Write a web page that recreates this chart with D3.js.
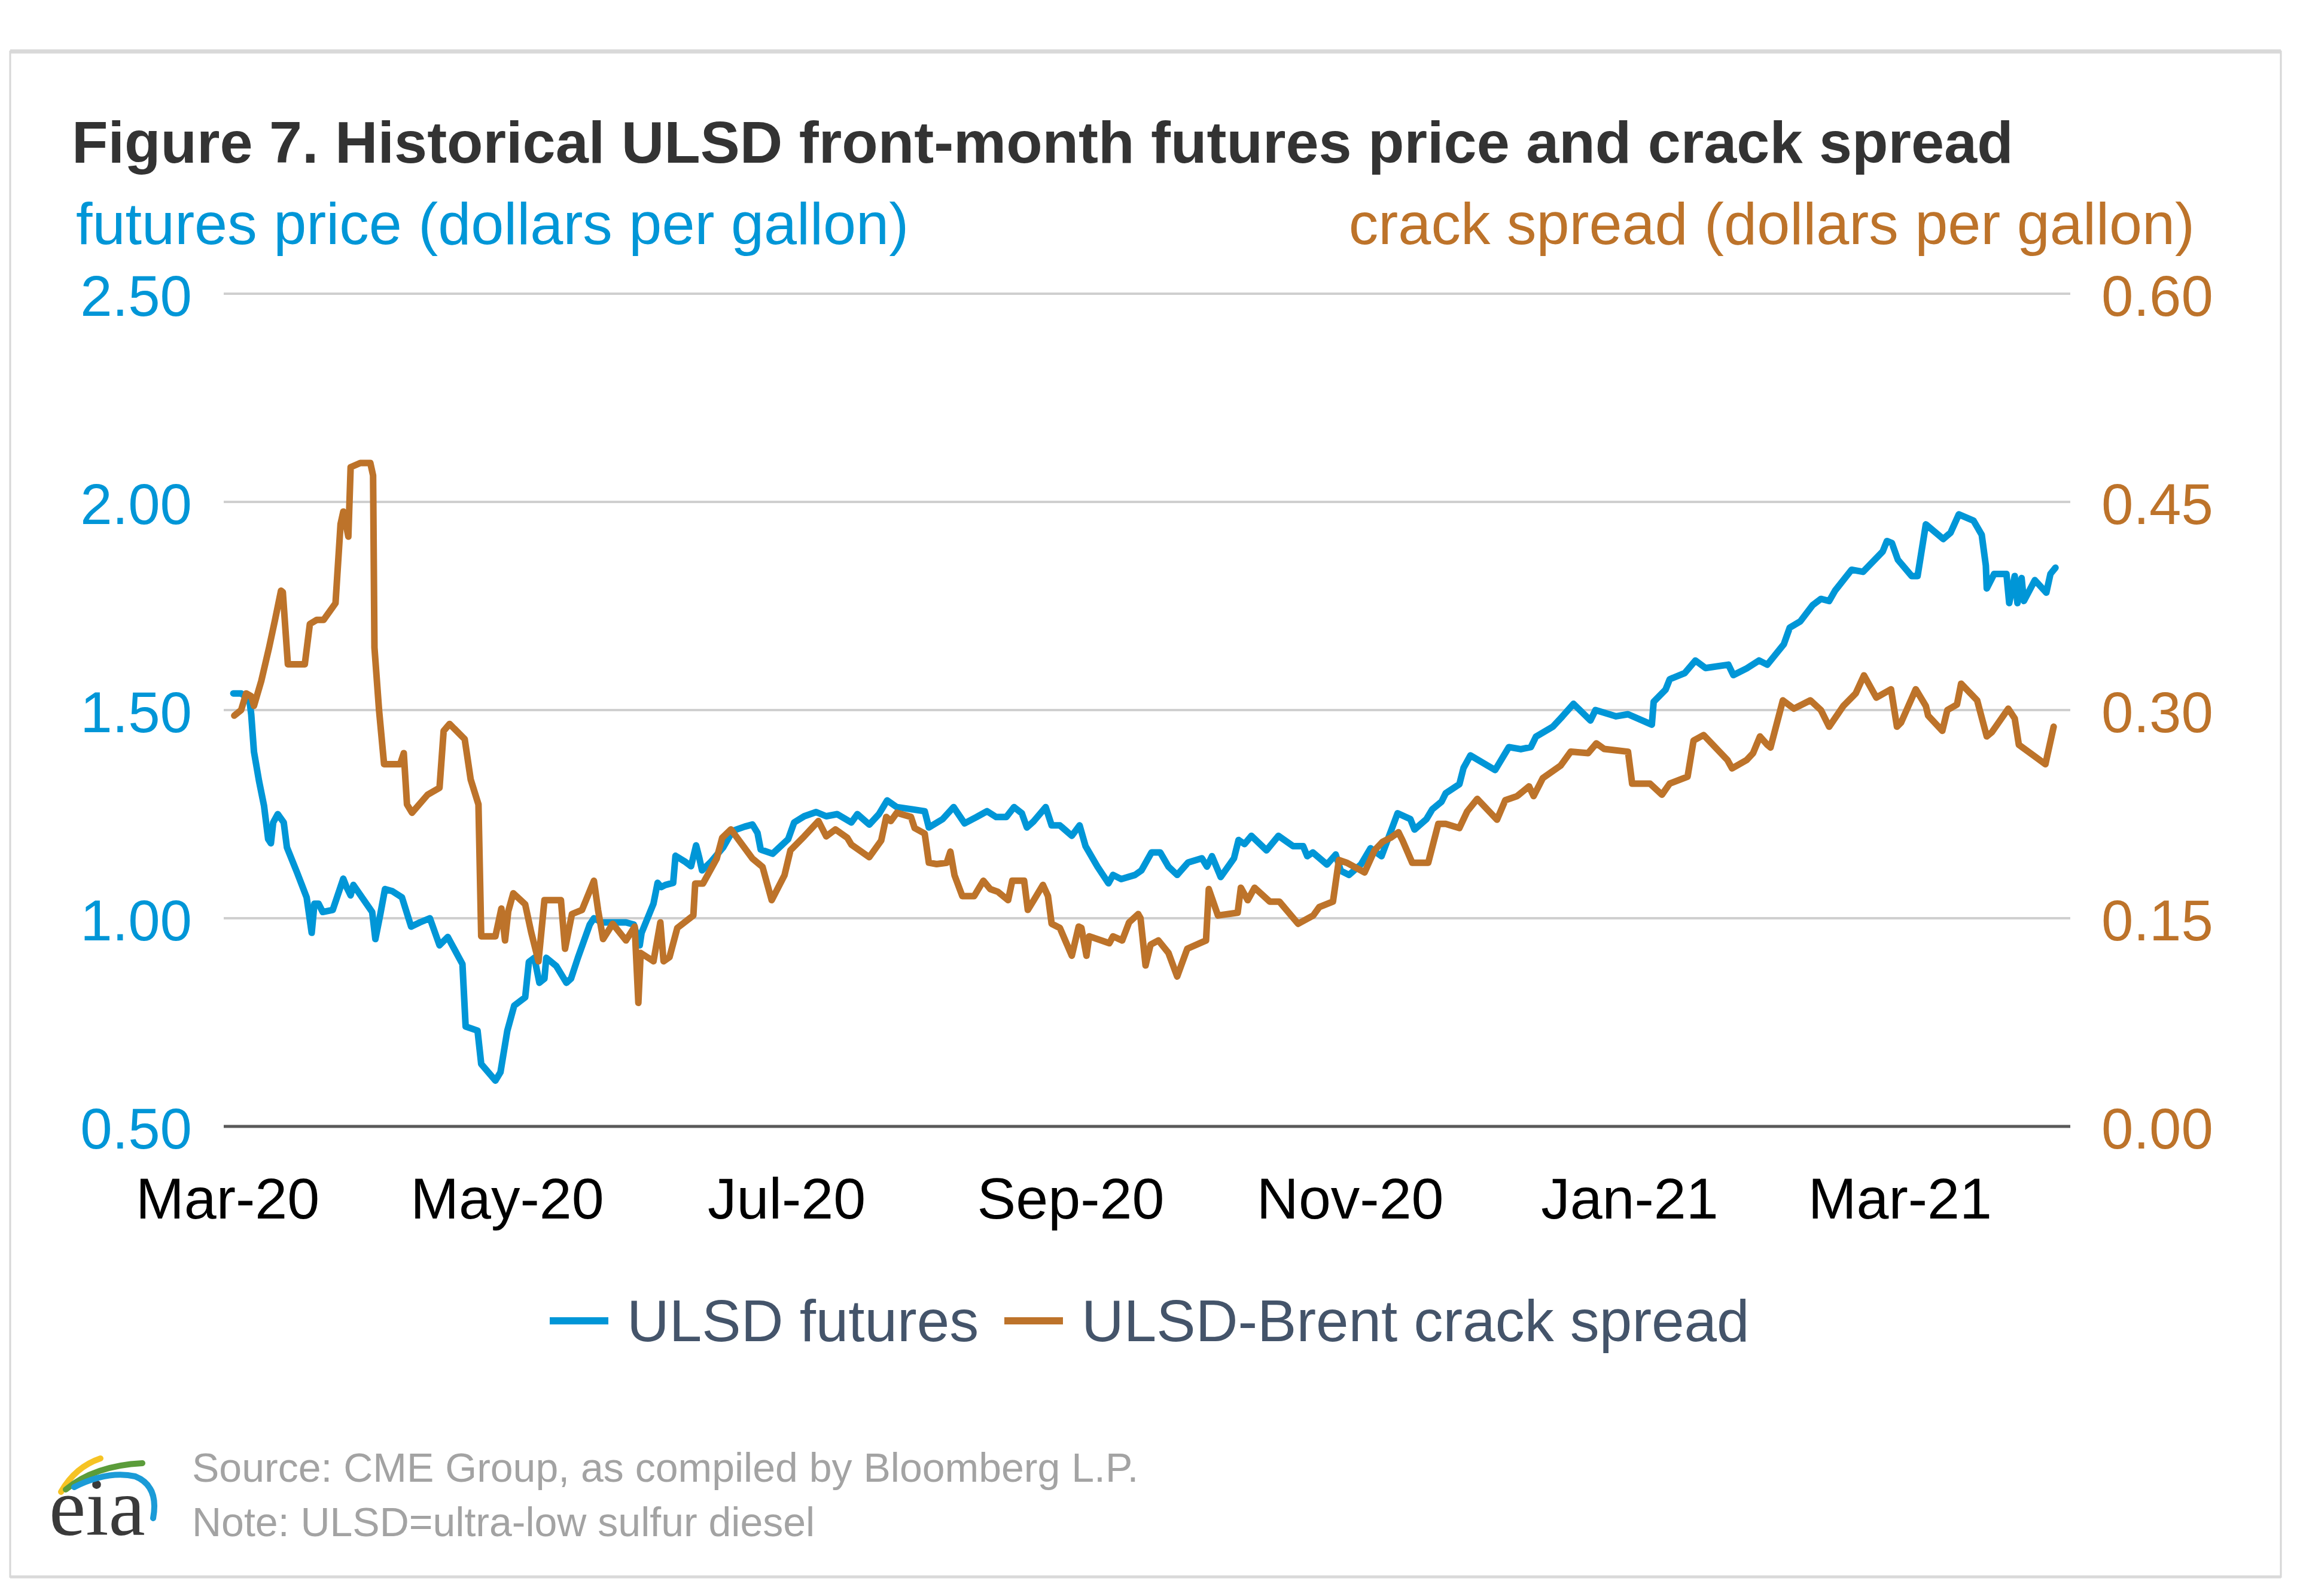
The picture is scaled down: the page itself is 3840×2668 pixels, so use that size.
<!DOCTYPE html>
<html>
<head>
<meta charset="utf-8">
<script src="https://cdn.jsdelivr.net/npm/d3@7"></script>
<style>
  html, body { margin: 0; padding: 0; background: #ffffff; }
  svg { display: block; font-family: "Liberation Sans", Arial, sans-serif; }
</style>
</head>
<body>
<svg id="chart" width="3840" height="2668"></svg>
<script>
// ---------------- data (days counted from 2020-03-01) ----------------
const titleText = "Figure 7. Historical ULSD front-month futures price and crack spread";
const leftAxisTitle = "futures price (dollars per gallon)";
const rightAxisTitle = "crack spread (dollars per gallon)";
const seriesNames = ["ULSD futures", "ULSD-Brent crack spread"];
const sourceLines = ["Source: CME Group, as compiled by Bloomberg L.P.", "Note: ULSD=ultra-low sulfur diesel"];

const xTickDates = ["2020-03-01", "2020-05-01", "2020-07-01", "2020-09-01", "2020-11-01", "2021-01-01", "2021-03-01"];
const xTickLabels = ["Mar-20", "May-20", "Jul-20", "Sep-20", "Nov-20", "Jan-21", "Mar-21"];
const leftTicks = [0.5, 1.0, 1.5, 2.0, 2.5];
const rightTicks = [0.0, 0.15, 0.30, 0.45, 0.60];

const futuresDay = [
  1.3, 3.0, 4.8, 5.2, 5.8, 6.9, 8.0, 8.9, 9.5, 10.0, 11.0, 12.3, 13.0, 15.2, 17.3, 18.4, 19.0, 19.9, 20.8, 23.0,
  25.3, 26.0, 26.9, 27.5, 31.6, 32.3, 33.3, 34.4, 36.0, 38.1, 40.1, 42.0, 44.2, 46.3, 48.1, 51.3, 52.0, 54.6, 55.4, 58.5,
  59.6, 61.1, 62.6, 65.0, 65.8, 67.0, 68.1, 69.2, 69.6, 71.8, 74.0, 75.0, 76.5, 79.1, 80.0, 81.7, 83.5, 87.0, 88.7, 90.0,
  90.4, 93.0, 93.9, 94.7, 95.6, 97.3, 97.8, 100.0, 101.2, 102.3, 103.0, 103.6, 105.5, 108.2, 110.3, 112.9, 114.6, 115.7, 116.4, 119.0,
  122.4, 123.7, 125.9, 128.5, 130.7, 133.1, 136.2, 137.5, 140.1, 142.2, 144.0, 146.1, 149.2, 152.2, 153.1, 156.1, 158.5, 160.9, 163.5, 165.8,
  167.8, 170.0, 171.7, 173.4, 174.5, 176.0, 178.6, 179.9, 181.7, 184.3, 186.0, 187.3, 189.9, 192.3, 193.3, 195.1, 198.1, 199.5, 201.7, 203.6,
  205.4, 207.3, 209.7, 212.7, 213.8, 214.9, 216.8, 219.7, 220.7, 222.0, 223.5, 226.8, 229.4, 232.6, 234.8, 235.7, 236.9, 240.0, 241.9, 243.0,
  244.8, 247.4, 249.5, 251.9, 253.4, 255.4, 258.2, 259.1, 261.7, 263.0, 265.0, 265.9, 268.9, 269.8, 271.3, 276.7, 279.7, 282.3, 284.5, 285.6,
  289.3, 291.4, 293.8, 297.5, 298.6, 303.1, 305.7, 310.9, 311.3, 313.9, 314.8, 318.1, 320.4, 322.6, 327.6, 328.7, 331.6, 334.3, 336.1, 339.7,
  341.0, 343.3, 346.0, 347.8, 349.6, 350.9, 354.5, 357.0, 361.3, 362.2, 363.3, 364.6, 367.6, 368.9, 370.7, 374.5, 376.1, 377.9, 381.1, 382.9,
  383.8, 384.0, 385.6, 388.3, 388.9, 390.1, 390.7, 391.6, 392.1, 394.5, 397.0, 397.9, 399.0
];
const futuresPrice = [
  1.54, 1.54, 1.525, 1.49, 1.40, 1.33, 1.27, 1.19, 1.18, 1.23, 1.25, 1.23, 1.17, 1.11, 1.05, 0.965, 1.035, 1.035, 1.015, 1.02,
  1.095, 1.075, 1.055, 1.08, 1.015, 0.95, 1.005, 1.07, 1.065, 1.05, 0.98, 0.99, 1.00, 0.935, 0.955, 0.89, 0.74, 0.73, 0.65, 0.61,
  0.63, 0.73, 0.79, 0.81, 0.895, 0.905, 0.845, 0.855, 0.905, 0.885, 0.845, 0.855, 0.905, 0.985, 1.00, 0.99, 0.99, 0.99, 0.985, 0.935,
  0.965, 1.035, 1.085, 1.075, 1.08, 1.085, 1.15, 1.135, 1.125, 1.175, 1.145, 1.115, 1.135, 1.17, 1.21, 1.22, 1.225, 1.205, 1.165, 1.155,
  1.19, 1.23, 1.245, 1.255, 1.245, 1.25, 1.23, 1.25, 1.225, 1.25, 1.283, 1.267, 1.262, 1.257, 1.218, 1.238, 1.267, 1.228, 1.243, 1.257,
  1.243, 1.243, 1.267, 1.252, 1.218, 1.233, 1.267, 1.223, 1.223, 1.198, 1.223, 1.173, 1.124, 1.084, 1.104, 1.094, 1.104, 1.115, 1.158, 1.158,
  1.124, 1.104, 1.134, 1.144, 1.124, 1.149, 1.099, 1.144, 1.188, 1.178, 1.198, 1.163, 1.198, 1.173, 1.173, 1.149, 1.158, 1.129, 1.153, 1.114,
  1.104, 1.129, 1.168, 1.149, 1.193, 1.252, 1.238, 1.213, 1.238, 1.262, 1.28, 1.30, 1.322, 1.361, 1.391, 1.356, 1.411, 1.406, 1.411, 1.436,
  1.46, 1.485, 1.515, 1.475, 1.50, 1.485, 1.49, 1.465, 1.52, 1.549, 1.574, 1.589, 1.619, 1.601, 1.609, 1.584, 1.60, 1.619, 1.609, 1.658,
  1.698, 1.713, 1.752, 1.767, 1.762, 1.787, 1.837, 1.832, 1.881, 1.906, 1.901, 1.861, 1.822, 1.822, 1.946, 1.911, 1.926, 1.97, 1.955, 1.921,
  1.847, 1.792, 1.827, 1.827, 1.757, 1.822, 1.757, 1.817, 1.762, 1.812, 1.782, 1.827, 1.842
];

const spreadDay = [
  1.5, 3.0, 4.1, 5.2, 5.8, 7.4, 9.1, 10.4, 11.7, 12.1, 13.2, 16.9, 18.0, 19.5, 21.0, 23.6, 24.7, 25.3, 26.4, 26.9,
  29.0, 31.2, 31.8, 32.1, 33.1, 34.2, 37.7, 38.5, 39.2, 40.3, 43.7, 46.3, 47.2, 48.5, 51.8, 53.1, 54.8, 55.4, 58.5, 59.8,
  60.6, 61.3, 62.4, 65.0, 66.3, 67.9, 69.2, 72.8, 73.7, 75.2, 77.4, 80.0, 80.9, 82.0, 84.1, 87.0, 88.9, 89.7, 90.2, 93.0,
  94.5, 95.2, 96.5, 98.2, 101.7, 102.1, 103.8, 106.8, 108.0, 109.9, 114.6, 116.8, 118.8, 121.6, 122.9, 125.9, 129.0, 130.7, 132.7, 135.3,
  136.2, 140.1, 142.7, 143.8, 144.8, 146.1, 149.2, 150.0, 152.2, 153.1, 154.8, 157.0, 157.8, 158.7, 160.4, 163.0, 165.0, 166.5, 168.2, 170.4,
  171.3, 173.9, 174.7, 176.0, 178.0, 179.1, 179.9, 181.7, 184.3, 185.8, 186.4, 187.5, 188.1, 192.5, 193.3, 195.3, 196.8, 198.8, 199.3, 200.4,
  201.5, 203.2, 205.4, 207.3, 209.5, 213.6, 214.2, 216.2, 220.5, 221.2, 222.7, 224.2, 227.5, 229.6, 233.7, 237.0, 238.3, 241.3, 242.6, 244.3,
  248.2, 250.4, 252.1, 253.9, 255.6, 256.5, 258.6, 262.1, 264.3, 265.9, 268.9, 270.6, 272.8, 277.1, 278.9, 281.5, 284.1, 285.1, 287.1, 291.0,
  293.2, 297.0, 298.8, 300.5, 305.7, 306.6, 310.5, 313.1, 314.8, 318.7, 320.0, 322.2, 327.4, 328.4, 331.6, 333.0, 334.5, 336.1, 336.8, 339.5,
  341.9, 345.5, 347.8, 349.6, 352.7, 355.4, 357.2, 359.9, 363.1, 364.4, 365.3, 368.5, 370.7, 371.2, 374.3, 375.4, 377.5, 378.4, 381.9, 384.0,
  385.1, 388.7, 390.1, 391.0, 396.8, 398.6
];
const spreadValue = [
  0.296, 0.30, 0.312, 0.31, 0.303, 0.321, 0.345, 0.365, 0.386, 0.385, 0.333, 0.333, 0.362, 0.365, 0.365, 0.377, 0.434, 0.443, 0.425, 0.475,
  0.478, 0.478, 0.469, 0.345, 0.30, 0.261, 0.261, 0.269, 0.232, 0.226, 0.239, 0.244, 0.285, 0.29, 0.279, 0.25, 0.232, 0.137, 0.137, 0.157,
  0.134, 0.155, 0.168, 0.16, 0.14, 0.119, 0.163, 0.163, 0.128, 0.153, 0.156, 0.177, 0.156, 0.135, 0.146, 0.134, 0.144, 0.089, 0.125, 0.119,
  0.147, 0.119, 0.122, 0.143, 0.152, 0.175, 0.175, 0.193, 0.208, 0.214, 0.193, 0.187, 0.163, 0.181, 0.199, 0.209, 0.22, 0.209, 0.214, 0.208,
  0.203, 0.194, 0.206, 0.223, 0.22, 0.226, 0.223, 0.215, 0.211, 0.19, 0.189, 0.19, 0.198, 0.181, 0.166, 0.166, 0.177, 0.171, 0.169, 0.163,
  0.177, 0.177, 0.156, 0.163, 0.174, 0.166, 0.146, 0.143, 0.123, 0.144, 0.143, 0.123, 0.137, 0.132, 0.137, 0.134, 0.147, 0.153, 0.15, 0.116,
  0.131, 0.134, 0.125, 0.108, 0.128, 0.134, 0.171, 0.152, 0.154, 0.172, 0.163, 0.172, 0.162, 0.162, 0.146, 0.152, 0.158, 0.162, 0.192, 0.19,
  0.183, 0.199, 0.205, 0.208, 0.212, 0.206, 0.19, 0.19, 0.218, 0.218, 0.215, 0.227, 0.236, 0.221, 0.235, 0.238, 0.245, 0.238, 0.251, 0.26,
  0.27, 0.269, 0.276, 0.272, 0.27, 0.247, 0.247, 0.239, 0.247, 0.252, 0.278, 0.282, 0.264, 0.258, 0.264, 0.269, 0.281, 0.275, 0.273, 0.307,
  0.301, 0.307, 0.30, 0.288, 0.303, 0.312, 0.325, 0.309, 0.315, 0.288, 0.291, 0.315, 0.303, 0.296, 0.285, 0.30, 0.304, 0.319, 0.307, 0.281,
  0.284, 0.301, 0.294, 0.275, 0.261, 0.288
];

// ---------------- drawing ----------------
const blue = "#0096D7";
const orange = "#BD732A";
const DAY = 86400000;
const origin = Date.UTC(2020, 2, 1);
const toDate = d => new Date(origin + d * DAY);

const svg = d3.select("#chart");
svg.append("rect").attr("width", 3840).attr("height", 2668).attr("fill", "#ffffff");

// frame
svg.append("rect").attr("x", 17).attr("y", 86).attr("width", 3796).attr("height", 2550)
  .attr("fill", "none").attr("stroke", "#d6d6d6").attr("stroke-width", 3);
svg.append("line").attr("x1", 17).attr("x2", 3813).attr("y1", 86).attr("y2", 86)
  .attr("stroke", "#d9d9d9").attr("stroke-width", 7);
svg.append("line").attr("x1", 17).attr("x2", 3813).attr("y1", 2636).attr("y2", 2636)
  .attr("stroke", "#d9d9d9").attr("stroke-width", 5);

const plotL = 374, plotR = 3461;
const x = d3.scaleUtc()
  .domain([new Date(origin - 0.67 * DAY), new Date(origin + 402.1 * DAY)])
  .range([375, 3460]);
const yL = d3.scaleLinear().domain([0.5, 2.5]).range([1883, 491]);
const yR = d3.scaleLinear().domain([0, 0.6]).range([1883, 491]);

// title
svg.append("text").attr("x", 120).attr("y", 272)
  .attr("font-size", 99).attr("font-weight", "bold").attr("fill", "#333333")
  .text(titleText);
svg.append("text").attr("x", 127).attr("y", 408)
  .attr("font-size", 99).attr("fill", blue).text(leftAxisTitle);
svg.append("text").attr("x", 3669).attr("y", 408).attr("text-anchor", "end")
  .attr("font-size", 99).attr("fill", orange).text(rightAxisTitle);

// gridlines
svg.append("g").selectAll("line").data(leftTicks).join("line")
  .attr("x1", plotL).attr("x2", plotR)
  .attr("y1", d => yL(d)).attr("y2", d => yL(d))
  .attr("stroke", d => d === 0.5 ? "#595959" : "#cfcfcf")
  .attr("stroke-width", d => d === 0.5 ? 5 : 4);

// left axis
const gL = svg.append("g").attr("transform", "translate(321,0)")
  .call(d3.axisLeft(yL).tickValues(leftTicks).tickFormat(d3.format(".2f")).tickSize(0).tickPadding(0));
gL.select(".domain").remove();
gL.selectAll("text").attr("font-size", 96).attr("fill", blue)
  .attr("font-family", "Liberation Sans, Arial, sans-serif").attr("dy", "0.38em");

// right axis
const gR = svg.append("g").attr("transform", "translate(3513,0)")
  .call(d3.axisRight(yR).tickValues(rightTicks).tickFormat(d3.format(".2f")).tickSize(0).tickPadding(0));
gR.select(".domain").remove();
gR.selectAll("text").attr("font-size", 96).attr("fill", orange)
  .attr("font-family", "Liberation Sans, Arial, sans-serif").attr("dy", "0.38em");

// bottom axis
const tickDates = xTickDates.map(s => new Date(s + "T00:00:00Z"));
const gB = svg.append("g").attr("transform", "translate(0,0)")
  .call(d3.axisBottom(x).tickValues(tickDates).tickFormat((d, i) => xTickLabels[i]).tickSize(0).tickPadding(0));
gB.select(".domain").remove();
gB.selectAll("text").attr("font-size", 97).attr("fill", "#000000")
  .attr("font-family", "Liberation Sans, Arial, sans-serif")
  .attr("y", 2037).attr("dy", null);

// series
const futures = futuresDay.map((d, i) => ({ date: toDate(d), v: futuresPrice[i] }));
const spread = spreadDay.map((d, i) => ({ date: toDate(d), v: spreadValue[i] }));

svg.append("path").datum(futures)
  .attr("fill", "none").attr("stroke", blue).attr("stroke-width", 11)
  .attr("stroke-linejoin", "round").attr("stroke-linecap", "round")
  .attr("d", d3.line().x(d => x(d.date)).y(d => yL(d.v)));
svg.append("path").datum(spread)
  .attr("fill", "none").attr("stroke", orange).attr("stroke-width", 11)
  .attr("stroke-linejoin", "round").attr("stroke-linecap", "round")
  .attr("d", d3.line().x(d => x(d.date)).y(d => yR(d.v)));

// legend
const legend = [
  { name: seriesNames[0], color: blue, x0: 919 },
  { name: seriesNames[1], color: orange, x0: 1679 }
];
const lg = svg.append("g");
legend.forEach(l => {
  lg.append("line").attr("x1", l.x0).attr("x2", l.x0 + 98).attr("y1", 2208).attr("y2", 2208)
    .attr("stroke", l.color).attr("stroke-width", 12);
  lg.append("text").attr("x", l.x0 + 129).attr("y", 2242)
    .attr("font-size", 98).attr("fill", "#44546A").text(l.name);
});

// source / note
svg.append("text").attr("x", 321).attr("y", 2477).attr("font-size", 68).attr("fill", "#a3a3a3").text(sourceLines[0]);
svg.append("text").attr("x", 321).attr("y", 2568).attr("font-size", 68).attr("fill", "#a3a3a3").text(sourceLines[1]);

// eia logo
const logo = svg.append("g");
logo.append("text").attr("x", 82).attr("y", 2566)
  .attr("font-family", "Liberation Serif, DejaVu Serif, serif").attr("font-size", 138)
  .attr("fill", "#3a3a3a").text("eia");
logo.append("path").attr("d", "M102,2494 Q126,2452 168,2438").attr("fill", "none")
  .attr("stroke", "#F6C324").attr("stroke-width", 10).attr("stroke-linecap", "round");
logo.append("path").attr("d", "M110,2490 Q158,2450 238,2446").attr("fill", "none")
  .attr("stroke", "#5B9C3A").attr("stroke-width", 10).attr("stroke-linecap", "round");
logo.append("path").attr("d", "M124,2486 Q180,2458 226,2468 Q266,2484 256,2538").attr("fill", "none")
  .attr("stroke", "#1B9BD7").attr("stroke-width", 10).attr("stroke-linecap", "round");
</script>
</body>
</html>
